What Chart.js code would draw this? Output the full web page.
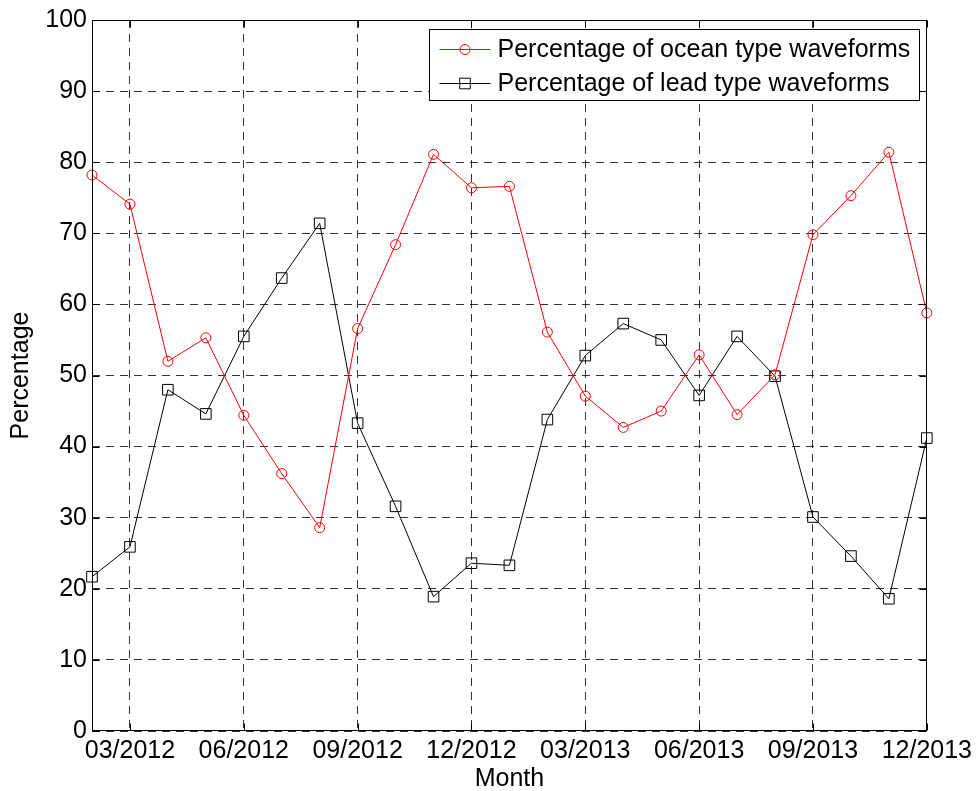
<!DOCTYPE html>
<html>
<head>
<meta charset="utf-8">
<script src="https://cdn.jsdelivr.net/npm/chart.js@4/dist/chart.umd.min.js"></script>
<style>
  html, body { margin: 0; padding: 0; background: #fff; }
  #wrap { width: 977px; height: 791px; position: relative; }
</style>
</head>
<body>
<div id="wrap"><canvas id="c" width="977" height="791"></canvas></div>
<script>
const months = ['02/2012','03/2012','04/2012','05/2012','06/2012','07/2012','08/2012','09/2012','10/2012','11/2012','12/2012',
                '01/2013','02/2013','03/2013','04/2013','05/2013','06/2013','07/2013','08/2013','09/2013','10/2013','11/2013','12/2013'];
const oceanPct = [78.2, 74.1, 52.0, 55.3, 44.4, 36.2, 28.6, 56.6, 68.4, 81.1, 76.4, 76.6, 56.1,
                  47.1, 42.7, 45.0, 52.9, 44.5, 50.1, 69.8, 75.3, 81.4, 58.8];
const leadPct  = [21.7, 25.9, 48.0, 44.6, 55.5, 63.7, 71.4, 43.3, 31.6, 18.9, 23.6, 23.3, 43.8,
                  52.8, 57.3, 55.0, 47.2, 55.5, 49.9, 30.1, 24.6, 18.6, 41.2];
const seriesNames = ['Percentage of ocean type waveforms', 'Percentage of lead type waveforms'];
const yTicks = [0,10,20,30,40,50,60,70,80,90,100];

const FONT = 'Liberation Sans, Arial, Helvetica, sans-serif';
const FS = 25;
const labeled = i => i % 3 === 1;
const GRID = 'rgba(0,0,0,0.8)';

const frame = {
  id: 'frame',
  afterDraw(chart) {
    const ctx = chart.ctx, ca = chart.chartArea;
    const xs = chart.scales.x, ys = chart.scales.y;
    ctx.save();
    ctx.strokeStyle = '#000';
    ctx.lineWidth = 1;
    ctx.setLineDash([]);
    const L = Math.round(ca.left) + 0.5, R = Math.round(ca.right) - 0.5;
    const T = Math.round(ca.top) + 0.5, B = Math.round(ca.bottom) - 0.5;
    ctx.strokeRect(L, T, R - L, B - T);
    ctx.beginPath();
    ys.ticks.forEach(t => {
      const y = Math.round(ys.getPixelForValue(t.value)) + 0.5;
      ctx.moveTo(L, y); ctx.lineTo(L + 7, y);
      ctx.moveTo(R, y); ctx.lineTo(R - 7, y);
    });
    months.forEach((m, i) => {
      if (!labeled(i)) return;
      const x = Math.round(xs.getPixelForValue(i)) + 0.5;
      ctx.moveTo(x, B); ctx.lineTo(x, B - 7);
      ctx.moveTo(x, T); ctx.lineTo(x, T + 7);
    });
    ctx.stroke();

    // legend
    ctx.font = FS + 'px ' + FONT;
    const widths = chart.data.datasets.map(d => ctx.measureText(d.label).width);
    const boxW = 68 + Math.max(...widths) + 9;
    const boxR = Math.round(ca.right) - 7.5;
    const boxL = boxR - Math.round(boxW);
    const boxT = Math.round(ca.top) + 9.5;
    const boxB = boxT + 71;
    ctx.fillStyle = '#fff';
    ctx.fillRect(boxL, boxT, boxR - boxL, boxB - boxT);
    ctx.strokeStyle = '#000';
    ctx.strokeRect(boxL, boxT, boxR - boxL, boxB - boxT);
    const rows = [boxT + 19, boxT + 53];
    chart.data.datasets.forEach((d, k) => {
      const y = Math.round(rows[k]) + 0.5;
      ctx.strokeStyle = d.borderColor;
      ctx.lineWidth = 1;
      ctx.beginPath();
      ctx.moveTo(boxL + 10, y); ctx.lineTo(boxL + 61, y);
      ctx.stroke();
      const cx = boxL + 35.5;
      ctx.beginPath();
      if (d.pointStyle === 'circle') {
        ctx.arc(cx, y, d.pointRadius, 0, Math.PI * 2);
      } else {
        const s = d.pointRadius * Math.SQRT1_2;
        ctx.rect(cx - s, y - s, 2 * s, 2 * s);
      }
      ctx.stroke();
      ctx.fillStyle = '#000';
      ctx.textBaseline = 'middle';
      ctx.textAlign = 'left';
      ctx.fillText(d.label, boxL + 68, y + 1);
    });
    ctx.restore();
  }
};

new Chart(document.getElementById('c'), {
  type: 'line',
  data: {
    labels: months,
    datasets: [
      {
        label: seriesNames[0], data: oceanPct,
        borderColor: '#ff0000', backgroundColor: 'rgba(0,0,0,0)',
        borderWidth: 1, tension: 0,
        pointStyle: 'circle', pointRadius: 5, pointBorderWidth: 1,
        pointBorderColor: '#ff0000', pointBackgroundColor: 'rgba(0,0,0,0)'
      },
      {
        label: seriesNames[1], data: leadPct,
        borderColor: '#000000', backgroundColor: 'rgba(0,0,0,0)',
        borderWidth: 1, tension: 0,
        pointStyle: 'rect', pointRadius: 7.5, pointBorderWidth: 1,
        pointBorderColor: '#000000', pointBackgroundColor: 'rgba(0,0,0,0)'
      }
    ]
  },
  options: {
    responsive: false,
    animation: false,
    devicePixelRatio: 1,
    layout: { padding: { top: 20, right: 49, left: 0, bottom: 0 } },
    plugins: { legend: { display: false }, tooltip: { enabled: false } },
    scales: {
      x: {
        type: 'category',
        offset: false,
        border: { display: false, dash: [8, 6] },
        grid: {
          drawTicks: false,
          color: c => labeled(c.index) ? GRID : 'rgba(0,0,0,0)',
          lineWidth: 1
        },
        ticks: {
          autoSkip: false, maxRotation: 0, minRotation: 0,
          padding: 5,
          color: '#000',
          font: { family: FONT, size: FS },
          callback: (v, i) => labeled(i) ? months[i] : ''
        },
        title: { display: true, text: 'Month', color: '#000', font: { family: FONT, size: FS }, padding: { top: 0, bottom: -3 } },
        afterFit: s => { s.height = 60; }
      },
      y: {
        min: 0, max: 100,
        border: { display: false, dash: [8, 6] },
        grid: { drawTicks: false, color: GRID, lineWidth: 1 },
        afterBuildTicks: s => { s.ticks = yTicks.map(v => ({ value: v })); },
        ticks: {
          padding: 5,
          color: '#000',
          font: { family: FONT, size: FS }
        },
        title: { display: true, text: 'Percentage', color: '#000', font: { family: FONT, size: FS }, padding: { top: 6, bottom: 0 } },
        afterFit: s => { s.width = 92; }
      }
    }
  },
  plugins: [frame]
});
</script>
</body>
</html>
